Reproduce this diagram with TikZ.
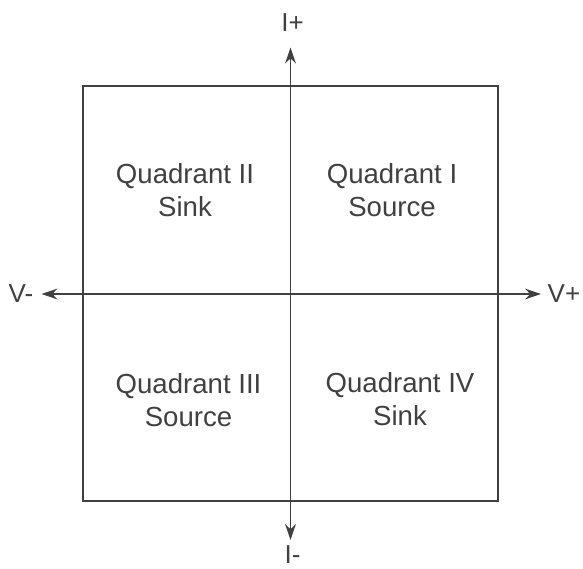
\documentclass[tikz,border=0pt]{standalone}
\usepackage{fontspec}
\setmainfont{Liberation Sans}
\usetikzlibrary{arrows.meta}
\definecolor{ink}{HTML}{404040}
\tikzset{
  quad/.style = {align = center, text = ink, font = \fontsize{13.8}{16.5}\selectfont},
  axislabel/.style = {text = ink, inner sep = 1pt, font = \fontsize{13}{15}\selectfont},
  axis/.style = {draw = ink, line width = 0.8pt, {Stealth[length = 8pt, width = 5.4pt]}-{Stealth[length = 8pt, width = 5.4pt]}}
}
\begin{document}
\begin{tikzpicture}[x = 0.5pt, y = -0.5pt]
\useasboundingbox (0,0) rectangle (583,568);
\draw[ink, line width = 1pt] (82.7,85.5) rectangle (498,501);
\coordinate (vl) at (41.5,294);
\coordinate (vr) at (541,294);
\coordinate (it) at (290.5,47.5);
\coordinate (ib) at (290.5,540);
\draw[axis] (vl) -- (vr);
\draw[axis] (it) -- (ib);
\node[axislabel] at (292.5,23) (iplus) {I+};
\node[axislabel] at (292.5,555) (iminus) {I-};
\node[axislabel] at (21,294) (vminus) {V-};
\node[axislabel] at (564,294) (vplus) {V+};
\node[quad] at (185,190) (q2) {Quadrant II\\Sink};
\node[quad] at (392,190) (q1) {Quadrant I\\Source};
\node[quad] at (188.5,400) (q3) {Quadrant III\\Source};
\node[quad] at (400,399) (q4) {Quadrant IV\\Sink};
\end{tikzpicture}
\end{document}
